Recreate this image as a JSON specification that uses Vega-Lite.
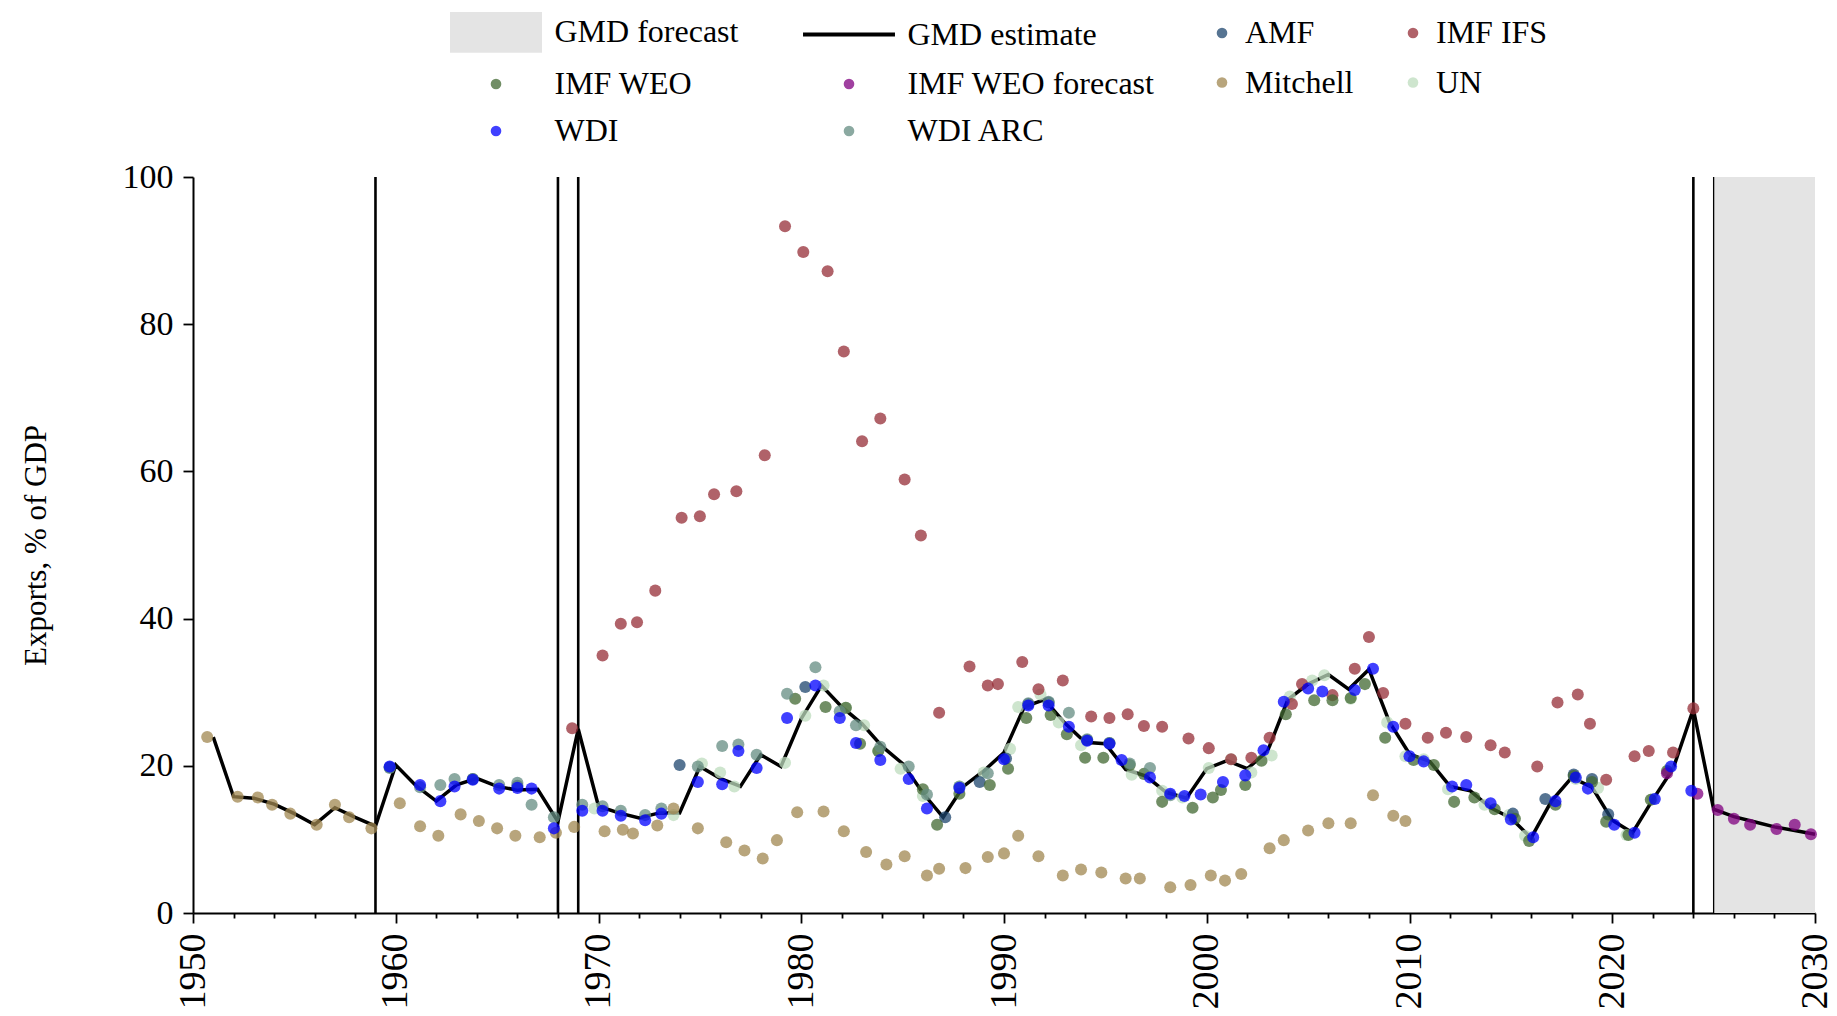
{
  "$schema": "https://vega.github.io/schema/vega-lite/v6.json",
  "width": 1622,
  "height": 736,
  "autosize": {"type": "none"},
  "padding": {"left": 193, "top": 177, "right": 22, "bottom": 103},
  "background": "white",
  "config": {
    "view": {"stroke": null},
    "font": "Liberation Serif",
    "axis": {"labelFont": "Liberation Serif", "titleFont": "Liberation Serif", "labelColor": "black", "titleColor": "black", "domainColor": "black", "tickColor": "black", "grid": false, "titleFontWeight": "normal"},
    "legend": {"labelFont": "Liberation Serif", "labelColor": "black", "labelLimit": 0, "padding": 0, "symbolStrokeWidth": 0}
  },
  "datasets": {
    "fc": [{"x": 2025, "x2": 2030}],
    "breaks": [{"x": 1959}, {"x": 1968}, {"x": 1969}, {"x": 2024}],
    "edge": [{"x": 2025}],
    "gmd": [
      {"x":1951,"v":23.9},{"x":1952,"v":15.8},{"x":1953,"v":15.6},{"x":1954,"v":14.8},{"x":1955,"v":13.5},{"x":1956,"v":12.0},{"x":1957,"v":14.3},{"x":1958,"v":13.0},{"x":1959,"v":11.8},
      {"x":1960,"v":20.1},{"x":1961,"v":17.3},{"x":1962,"v":15.2},{"x":1963,"v":17.4},{"x":1964,"v":18.3},{"x":1965,"v":17.2},{"x":1966,"v":16.7},{"x":1967,"v":16.8},{"x":1968,"v":12.4},{"x":1969,"v":25.0},
      {"x":1970,"v":14.5},{"x":1971,"v":13.6},{"x":1972,"v":12.9},{"x":1973,"v":13.6},{"x":1974,"v":13.6},{"x":1975,"v":19.9},{"x":1976,"v":18.3},{"x":1977,"v":17.2},{"x":1978,"v":21.5},{"x":1979,"v":19.9},
      {"x":1980,"v":26.4},{"x":1981,"v":30.9},{"x":1982,"v":28.0},{"x":1983,"v":25.7},{"x":1984,"v":22.6},{"x":1985,"v":20.3},{"x":1986,"v":16.3},{"x":1987,"v":13.0},{"x":1988,"v":17.2},{"x":1989,"v":19.3},
      {"x":1990,"v":21.8},{"x":1991,"v":28.0},{"x":1992,"v":29.0},{"x":1993,"v":25.8},{"x":1994,"v":23.2},{"x":1995,"v":23.0},{"x":1996,"v":19.5},{"x":1997,"v":18.6},{"x":1998,"v":16.4},{"x":1999,"v":15.6},
      {"x":2000,"v":19.6},{"x":2001,"v":20.7},{"x":2002,"v":19.6},{"x":2003,"v":22.0},{"x":2004,"v":29.0},{"x":2005,"v":31.1},{"x":2006,"v":32.4},{"x":2007,"v":30.4},{"x":2008,"v":33.1},{"x":2009,"v":26.0},
      {"x":2010,"v":21.6},{"x":2011,"v":20.6},{"x":2012,"v":17.2},{"x":2013,"v":16.6},{"x":2014,"v":14.3},{"x":2015,"v":12.9},{"x":2016,"v":10.2},{"x":2017,"v":15.2},{"x":2018,"v":18.4},{"x":2019,"v":17.1},
      {"x":2020,"v":12.6},{"x":2021,"v":10.9},{"x":2022,"v":15.4},{"x":2023,"v":19.6},{"x":2024,"v":27.7},{"x":2025,"v":14.1},{"x":2026,"v":13.1},{"x":2027,"v":12.4},{"x":2028,"v":11.7},{"x":2029,"v":11.2},{"x":2030,"v":10.7}
    ],
    "pointsB": [
      {"series":"UN","x":1969.8,"v":14.2},{"series":"UN","x":1973.7,"v":13.3},{"series":"UN","x":1975.1,"v":20.3},{"series":"UN","x":1976.0,"v":19.1},{"series":"UN","x":1976.7,"v":17.2},{"series":"UN","x":1979.2,"v":20.4},{"series":"UN","x":1980.2,"v":26.8},{"series":"UN","x":1981.1,"v":30.9},{"series":"UN","x":1982.2,"v":27.9},{"series":"UN","x":1983.1,"v":25.5},{"series":"UN","x":1983.8,"v":22.0},{"series":"UN","x":1984.9,"v":19.6},{"series":"UN","x":1986.0,"v":15.9},{"series":"UN","x":1987.8,"v":17.2},{"series":"UN","x":1989.0,"v":19.1},{"series":"UN","x":1990.3,"v":22.3},{"series":"UN","x":1990.7,"v":28.0},{"series":"UN","x":1991.8,"v":29.7},{"series":"UN","x":1992.7,"v":25.9},{"series":"UN","x":1993.8,"v":22.8},{"series":"UN","x":1996.3,"v":18.8},{"series":"UN","x":1997.8,"v":16.6},{"series":"UN","x":1998.8,"v":15.7},{"series":"UN","x":2000.1,"v":19.7},{"series":"UN","x":2001.2,"v":20.9},{"series":"UN","x":2002.2,"v":19.1},{"series":"UN","x":2003.2,"v":21.4},{"series":"UN","x":2004.1,"v":29.4},{"series":"UN","x":2005.2,"v":31.6},{"series":"UN","x":2005.8,"v":32.3},{"series":"UN","x":2007.1,"v":29.1},{"series":"UN","x":2008.9,"v":25.9},{"series":"UN","x":2009.8,"v":21.3},{"series":"UN","x":2010.7,"v":20.9},{"series":"UN","x":2011.9,"v":16.8},{"series":"UN","x":2013.7,"v":14.7},{"series":"UN","x":2014.9,"v":13.3},{"series":"UN","x":2015.7,"v":10.5},{"series":"UN","x":2018.2,"v":18.2},{"series":"UN","x":2019.3,"v":17.0},{"series":"UN","x":2020.7,"v":10.6},{"series":"UN","x":2022.0,"v":15.5},{"series":"UN","x":2022.8,"v":19.6},
      {"series":"Mitchell","x":1950.7,"v":23.9},{"series":"Mitchell","x":1952.2,"v":15.8},{"series":"Mitchell","x":1953.2,"v":15.7},{"series":"Mitchell","x":1953.9,"v":14.7},{"series":"Mitchell","x":1954.8,"v":13.5},{"series":"Mitchell","x":1956.1,"v":12.0},{"series":"Mitchell","x":1957.0,"v":14.7},{"series":"Mitchell","x":1957.7,"v":13.0},{"series":"Mitchell","x":1958.8,"v":11.5},
      {"series":"Mitchell","x":1960.2,"v":14.9},{"series":"Mitchell","x":1961.2,"v":11.8},{"series":"Mitchell","x":1962.1,"v":10.5},{"series":"Mitchell","x":1963.2,"v":13.4},{"series":"Mitchell","x":1964.1,"v":12.5},{"series":"Mitchell","x":1965.0,"v":11.5},{"series":"Mitchell","x":1965.9,"v":10.5},{"series":"Mitchell","x":1967.1,"v":10.3},{"series":"Mitchell","x":1967.9,"v":10.9},{"series":"Mitchell","x":1968.8,"v":11.7},
      {"series":"Mitchell","x":1970.3,"v":11.1},{"series":"Mitchell","x":1971.2,"v":11.3},{"series":"Mitchell","x":1971.7,"v":10.8},{"series":"Mitchell","x":1972.9,"v":11.9},{"series":"Mitchell","x":1973.7,"v":14.2},{"series":"Mitchell","x":1974.9,"v":11.5},{"series":"Mitchell","x":1976.3,"v":9.6},{"series":"Mitchell","x":1977.2,"v":8.5},{"series":"Mitchell","x":1978.1,"v":7.4},{"series":"Mitchell","x":1978.8,"v":9.9},{"series":"Mitchell","x":1979.8,"v":13.7},{"series":"Mitchell","x":1981.1,"v":13.8},{"series":"Mitchell","x":1982.1,"v":11.1},{"series":"Mitchell","x":1983.2,"v":8.3},{"series":"Mitchell","x":1984.2,"v":6.6},{"series":"Mitchell","x":1985.1,"v":7.7},{"series":"Mitchell","x":1986.2,"v":5.1},{"series":"Mitchell","x":1986.8,"v":6.0},{"series":"Mitchell","x":1988.1,"v":6.1},{"series":"Mitchell","x":1989.2,"v":7.6},{"series":"Mitchell","x":1990.0,"v":8.1},{"series":"Mitchell","x":1990.7,"v":10.5},{"series":"Mitchell","x":1991.7,"v":7.7},{"series":"Mitchell","x":1992.9,"v":5.1},{"series":"Mitchell","x":1993.8,"v":5.9},{"series":"Mitchell","x":1994.8,"v":5.5},{"series":"Mitchell","x":1996.0,"v":4.7},{"series":"Mitchell","x":1996.7,"v":4.7},{"series":"Mitchell","x":1998.2,"v":3.5},{"series":"Mitchell","x":1999.2,"v":3.8},{"series":"Mitchell","x":2000.2,"v":5.1},{"series":"Mitchell","x":2000.9,"v":4.4},{"series":"Mitchell","x":2001.7,"v":5.3},{"series":"Mitchell","x":2003.1,"v":8.8},{"series":"Mitchell","x":2003.8,"v":9.9},{"series":"Mitchell","x":2005.0,"v":11.2},{"series":"Mitchell","x":2006.0,"v":12.2},{"series":"Mitchell","x":2007.1,"v":12.2},{"series":"Mitchell","x":2008.2,"v":16.0},{"series":"Mitchell","x":2009.2,"v":13.2},{"series":"Mitchell","x":2009.8,"v":12.5},
      {"series":"IMF IFS","x":1968.7,"v":25.1},{"series":"IMF IFS","x":1970.2,"v":35.0},{"series":"IMF IFS","x":1971.1,"v":39.3},{"series":"IMF IFS","x":1971.9,"v":39.5},{"series":"IMF IFS","x":1972.8,"v":43.8},{"series":"IMF IFS","x":1974.1,"v":53.7},{"series":"IMF IFS","x":1975.0,"v":53.9},{"series":"IMF IFS","x":1975.7,"v":56.9},{"series":"IMF IFS","x":1976.8,"v":57.3},{"series":"IMF IFS","x":1978.2,"v":62.2},{"series":"IMF IFS","x":1979.2,"v":93.3},{"series":"IMF IFS","x":1980.1,"v":89.8},{"series":"IMF IFS","x":1981.3,"v":87.2},{"series":"IMF IFS","x":1982.1,"v":76.3},{"series":"IMF IFS","x":1983.0,"v":64.1},{"series":"IMF IFS","x":1983.9,"v":67.2},{"series":"IMF IFS","x":1985.1,"v":58.9},{"series":"IMF IFS","x":1985.9,"v":51.3},{"series":"IMF IFS","x":1986.8,"v":27.2},{"series":"IMF IFS","x":1988.3,"v":33.5},{"series":"IMF IFS","x":1989.2,"v":30.9},{"series":"IMF IFS","x":1989.7,"v":31.1},{"series":"IMF IFS","x":1990.9,"v":34.1},{"series":"IMF IFS","x":1991.7,"v":30.4},{"series":"IMF IFS","x":1992.9,"v":31.6},{"series":"IMF IFS","x":1994.3,"v":26.7},{"series":"IMF IFS","x":1995.2,"v":26.5},{"series":"IMF IFS","x":1996.1,"v":27.0},{"series":"IMF IFS","x":1996.9,"v":25.4},{"series":"IMF IFS","x":1997.8,"v":25.3},{"series":"IMF IFS","x":1999.1,"v":23.7},{"series":"IMF IFS","x":2000.1,"v":22.4},{"series":"IMF IFS","x":2001.2,"v":20.9},{"series":"IMF IFS","x":2002.2,"v":21.1},{"series":"IMF IFS","x":2003.1,"v":23.8},{"series":"IMF IFS","x":2004.2,"v":28.4},{"series":"IMF IFS","x":2004.7,"v":31.1},{"series":"IMF IFS","x":2006.2,"v":29.6},{"series":"IMF IFS","x":2007.3,"v":33.2},{"series":"IMF IFS","x":2008.0,"v":37.5},{"series":"IMF IFS","x":2008.7,"v":29.9},{"series":"IMF IFS","x":2009.8,"v":25.7},{"series":"IMF IFS","x":2010.9,"v":23.8},{"series":"IMF IFS","x":2011.8,"v":24.5},{"series":"IMF IFS","x":2012.8,"v":23.9},{"series":"IMF IFS","x":2014.0,"v":22.8},{"series":"IMF IFS","x":2014.7,"v":21.8},{"series":"IMF IFS","x":2016.3,"v":19.9},{"series":"IMF IFS","x":2017.3,"v":28.6},{"series":"IMF IFS","x":2018.3,"v":29.7},{"series":"IMF IFS","x":2018.9,"v":25.7},{"series":"IMF IFS","x":2019.7,"v":18.1},{"series":"IMF IFS","x":2021.1,"v":21.3},{"series":"IMF IFS","x":2021.8,"v":22.0},{"series":"IMF IFS","x":2023.0,"v":21.8},{"series":"IMF IFS","x":2024.0,"v":27.8},
      {"series":"AMF","x":1959.7,"v":19.8},{"series":"AMF","x":1963.8,"v":18.2},{"series":"AMF","x":1966.0,"v":17.3},{"series":"AMF","x":1974.0,"v":20.1},{"series":"AMF","x":1980.2,"v":30.7},{"series":"AMF","x":1987.1,"v":13.0},{"series":"AMF","x":1988.8,"v":17.8},{"series":"AMF","x":1990.1,"v":21.0},{"series":"AMF","x":1991.2,"v":28.4},{"series":"AMF","x":1992.2,"v":28.6},{"series":"AMF","x":1994.1,"v":23.5},{"series":"AMF","x":1995.2,"v":23.1},{"series":"AMF","x":2015.1,"v":13.5},{"series":"AMF","x":2016.7,"v":15.5},{"series":"AMF","x":2018.1,"v":18.8},{"series":"AMF","x":2019.0,"v":18.2},{"series":"AMF","x":2019.8,"v":13.4}
    ],
    "pointsA": [
      {"series":"IMF WEO","x":1979.7,"v":29.1},{"series":"IMF WEO","x":1981.2,"v":28.0},{"series":"IMF WEO","x":1982.2,"v":27.9},{"series":"IMF WEO","x":1982.9,"v":23.0},{"series":"IMF WEO","x":1983.8,"v":22.0},{"series":"IMF WEO","x":1986.0,"v":16.8},{"series":"IMF WEO","x":1986.7,"v":12.0},{"series":"IMF WEO","x":1987.8,"v":16.2},{"series":"IMF WEO","x":1989.3,"v":17.4},{"series":"IMF WEO","x":1990.2,"v":19.6},{"series":"IMF WEO","x":1991.1,"v":26.5},{"series":"IMF WEO","x":1992.3,"v":26.9},{"series":"IMF WEO","x":1993.1,"v":24.3},{"series":"IMF WEO","x":1994.0,"v":21.1},{"series":"IMF WEO","x":1994.9,"v":21.1},{"series":"IMF WEO","x":1996.2,"v":20.1},{"series":"IMF WEO","x":1996.9,"v":18.9},{"series":"IMF WEO","x":1997.8,"v":15.1},{"series":"IMF WEO","x":1999.3,"v":14.3},{"series":"IMF WEO","x":2000.3,"v":15.7},{"series":"IMF WEO","x":2000.7,"v":16.7},{"series":"IMF WEO","x":2001.9,"v":17.4},{"series":"IMF WEO","x":2002.7,"v":20.7},{"series":"IMF WEO","x":2003.9,"v":27.0},{"series":"IMF WEO","x":2005.3,"v":28.9},{"series":"IMF WEO","x":2006.2,"v":28.9},{"series":"IMF WEO","x":2007.1,"v":29.2},{"series":"IMF WEO","x":2007.8,"v":31.1},{"series":"IMF WEO","x":2008.8,"v":23.8},{"series":"IMF WEO","x":2010.2,"v":20.8},{"series":"IMF WEO","x":2011.2,"v":20.1},{"series":"IMF WEO","x":2012.2,"v":15.1},{"series":"IMF WEO","x":2013.2,"v":15.7},{"series":"IMF WEO","x":2014.2,"v":14.1},{"series":"IMF WEO","x":2015.2,"v":12.8},{"series":"IMF WEO","x":2015.9,"v":9.8},{"series":"IMF WEO","x":2017.2,"v":14.7},{"series":"IMF WEO","x":2018.1,"v":18.6},{"series":"IMF WEO","x":2019.0,"v":17.8},{"series":"IMF WEO","x":2019.7,"v":12.4},{"series":"IMF WEO","x":2020.8,"v":10.6},{"series":"IMF WEO","x":2021.9,"v":15.4},{"series":"IMF WEO","x":2022.7,"v":19.3},
      {"series":"IMF WEO forecast","x":2022.7,"v":19.0},{"series":"IMF WEO forecast","x":2024.2,"v":16.2},{"series":"IMF WEO forecast","x":2025.2,"v":14.0},{"series":"IMF WEO forecast","x":2026.0,"v":12.8},{"series":"IMF WEO forecast","x":2026.8,"v":12.0},{"series":"IMF WEO forecast","x":2028.1,"v":11.4},{"series":"IMF WEO forecast","x":2029.0,"v":12.0},{"series":"IMF WEO forecast","x":2029.8,"v":10.7},
      {"series":"WDI ARC","x":1959.7,"v":19.7},{"series":"WDI ARC","x":1961.2,"v":17.1},{"series":"WDI ARC","x":1962.2,"v":17.4},{"series":"WDI ARC","x":1962.9,"v":18.2},{"series":"WDI ARC","x":1963.8,"v":18.2},{"series":"WDI ARC","x":1965.1,"v":17.4},{"series":"WDI ARC","x":1966.0,"v":17.7},{"series":"WDI ARC","x":1966.7,"v":14.7},{"series":"WDI ARC","x":1967.8,"v":13.0},{"series":"WDI ARC","x":1969.2,"v":14.7},{"series":"WDI ARC","x":1970.2,"v":14.5},{"series":"WDI ARC","x":1971.1,"v":13.9},{"series":"WDI ARC","x":1972.3,"v":13.3},{"series":"WDI ARC","x":1973.1,"v":14.2},{"series":"WDI ARC","x":1974.9,"v":19.9},{"series":"WDI ARC","x":1976.1,"v":22.7},{"series":"WDI ARC","x":1976.9,"v":22.9},{"series":"WDI ARC","x":1977.8,"v":21.5},{"series":"WDI ARC","x":1979.3,"v":29.8},{"series":"WDI ARC","x":1980.7,"v":33.4},{"series":"WDI ARC","x":1981.9,"v":27.4},{"series":"WDI ARC","x":1982.7,"v":25.5},{"series":"WDI ARC","x":1983.9,"v":22.6},{"series":"WDI ARC","x":1985.3,"v":19.9},{"series":"WDI ARC","x":1986.2,"v":16.1},{"series":"WDI ARC","x":1987.8,"v":17.2},{"series":"WDI ARC","x":1989.2,"v":19.0},{"series":"WDI ARC","x":1991.2,"v":28.5},{"series":"WDI ARC","x":1992.2,"v":28.7},{"series":"WDI ARC","x":1993.2,"v":27.2},{"series":"WDI ARC","x":1994.1,"v":23.6},{"series":"WDI ARC","x":1995.2,"v":23.1},{"series":"WDI ARC","x":1996.2,"v":20.3},{"series":"WDI ARC","x":1997.2,"v":19.7},{"series":"WDI ARC","x":1998.2,"v":16.0},
      {"series":"WDI","x":1959.7,"v":19.9},{"series":"WDI","x":1961.2,"v":17.4},{"series":"WDI","x":1962.2,"v":15.2},{"series":"WDI","x":1962.9,"v":17.2},{"series":"WDI","x":1963.8,"v":18.1},{"series":"WDI","x":1965.1,"v":16.9},{"series":"WDI","x":1966.0,"v":17.0},{"series":"WDI","x":1966.7,"v":16.9},{"series":"WDI","x":1967.8,"v":11.5},{"series":"WDI","x":1969.2,"v":13.9},{"series":"WDI","x":1970.2,"v":13.9},{"series":"WDI","x":1971.1,"v":13.2},{"series":"WDI","x":1972.3,"v":12.6},{"series":"WDI","x":1973.1,"v":13.5},{"series":"WDI","x":1974.9,"v":17.8},{"series":"WDI","x":1976.1,"v":17.5},{"series":"WDI","x":1976.9,"v":22.0},{"series":"WDI","x":1977.8,"v":19.7},{"series":"WDI","x":1979.3,"v":26.5},{"series":"WDI","x":1980.7,"v":30.9},{"series":"WDI","x":1981.9,"v":26.5},{"series":"WDI","x":1982.7,"v":23.1},{"series":"WDI","x":1983.9,"v":20.8},{"series":"WDI","x":1985.3,"v":18.2},{"series":"WDI","x":1986.2,"v":14.2},{"series":"WDI","x":1987.8,"v":17.0},{"series":"WDI","x":1990.0,"v":20.9},{"series":"WDI","x":1991.2,"v":28.2},{"series":"WDI","x":1992.2,"v":28.2},{"series":"WDI","x":1993.2,"v":25.3},{"series":"WDI","x":1994.1,"v":23.4},{"series":"WDI","x":1995.2,"v":23.0},{"series":"WDI","x":1995.8,"v":20.8},{"series":"WDI","x":1997.2,"v":18.4},{"series":"WDI","x":1998.2,"v":16.2},{"series":"WDI","x":1998.9,"v":15.9},{"series":"WDI","x":1999.7,"v":16.1},{"series":"WDI","x":2000.8,"v":17.8},{"series":"WDI","x":2001.9,"v":18.7},{"series":"WDI","x":2002.8,"v":22.1},{"series":"WDI","x":2003.8,"v":28.7},{"series":"WDI","x":2005.0,"v":30.5},{"series":"WDI","x":2005.7,"v":30.1},{"series":"WDI","x":2007.3,"v":30.3},{"series":"WDI","x":2008.2,"v":33.2},{"series":"WDI","x":2009.2,"v":25.3},{"series":"WDI","x":2010.0,"v":21.3},{"series":"WDI","x":2010.7,"v":20.6},{"series":"WDI","x":2012.1,"v":17.2},{"series":"WDI","x":2012.8,"v":17.4},{"series":"WDI","x":2014.0,"v":14.9},{"series":"WDI","x":2015.0,"v":12.7},{"series":"WDI","x":2016.1,"v":10.3},{"series":"WDI","x":2017.2,"v":15.2},{"series":"WDI","x":2018.2,"v":18.4},{"series":"WDI","x":2018.8,"v":16.9},{"series":"WDI","x":2020.1,"v":12.0},{"series":"WDI","x":2021.1,"v":10.9},{"series":"WDI","x":2022.1,"v":15.5},{"series":"WDI","x":2022.9,"v":19.9},{"series":"WDI","x":2023.9,"v":16.6}
    ]
  },
  "resolve": {"scale": {"color": "independent", "shape": "independent"}},
  "layer": [
    {
      "data": {"name": "fc"},
      "mark": {"type": "rect", "color": "#e4e4e4"},
      "encoding": {
        "x": {"field": "x", "type": "quantitative",
          "scale": {"domain": [1950, 2030], "nice": false, "zero": false},
          "axis": {
            "title": null,
            "values": [1950,1951,1952,1953,1954,1955,1956,1957,1958,1959,1960,1961,1962,1963,1964,1965,1966,1967,1968,1969,1970,1971,1972,1973,1974,1975,1976,1977,1978,1979,1980,1981,1982,1983,1984,1985,1986,1987,1988,1989,1990,1991,1992,1993,1994,1995,1996,1997,1998,1999,2000,2001,2002,2003,2004,2005,2006,2007,2008,2009,2010,2011,2012,2013,2014,2015,2016,2017,2018,2019,2020,2021,2022,2023,2024,2025,2026,2027,2028,2029,2030],
            "format": "d",
            "labelExpr": "datum.value % 10 === 0 ? datum.label : ''",
            "labelOverlap": false,
            "labelFlush": false,
            "labelAngle": 270,
            "labelFontSize": 38,
            "labelPadding": 10,
            "tickSize": {"condition": {"test": "datum.value % 10 === 0", "value": 10}, "value": 5},
            "tickWidth": 1.8,
            "domainWidth": 2
          }
        },
        "x2": {"field": "x2"}
      }
    },
    {
      "data": {"name": "breaks"},
      "mark": {"type": "rule", "color": "black", "strokeWidth": 2.6},
      "encoding": {"x": {"field": "x", "type": "quantitative", "title": null}}
    },
    {
      "data": {"name": "edge"},
      "mark": {"type": "rule", "color": "black", "strokeWidth": 1.3},
      "encoding": {"x": {"field": "x", "type": "quantitative", "title": null}}
    },
    {
      "data": {"name": "gmd"},
      "mark": {"type": "line", "color": "black", "strokeWidth": 3.5},
      "encoding": {
        "x": {"field": "x", "type": "quantitative", "title": null},
        "y": {"field": "v", "type": "quantitative",
          "scale": {"domain": [0, 100], "nice": false},
          "axis": {
            "title": "Exports, % of GDP",
            "titleFontSize": 31,
            "titlePadding": 70,
            "values": [0, 20, 40, 60, 80, 100],
            "labelFontSize": 34,
            "labelPadding": 10,
            "tickSize": 10,
            "tickWidth": 1.8,
            "domainWidth": 2
          }
        }
      }
    },
    {
      "data": {"name": "pointsB"},
      "mark": {"type": "point", "filled": true, "opacity": 1, "size": 145, "strokeWidth": 0},
      "encoding": {
        "x": {"field": "x", "type": "quantitative", "title": null},
        "y": {"field": "v", "type": "quantitative", "title": "Exports, % of GDP"},
        "color": {"field": "series", "type": "nominal",
          "scale": {"domain": ["AMF", "IMF IFS", "Mitchell", "UN"],
                    "range": ["rgba(30,70,110,0.75)", "rgba(150,45,55,0.75)", "rgba(160,135,80,0.75)", "rgba(190,220,190,0.75)"]},
          "legend": {"title": null, "orient": "none", "direction": "horizontal", "legendX": 1013, "legendY": -160, "columns": 2, "columnPadding": 43, "rowPadding": 17.5, "labelFontSize": 32, "labelOffset": 7, "symbolSize": 113, "symbolType": "circle", "symbolOpacity": 1}
        }
      }
    },
    {
      "data": {"name": "pointsA"},
      "mark": {"type": "point", "filled": true, "opacity": 1, "size": 145, "strokeWidth": 0},
      "encoding": {
        "x": {"field": "x", "type": "quantitative", "title": null},
        "y": {"field": "v", "type": "quantitative", "title": "Exports, % of GDP"},
        "color": {"field": "series", "type": "nominal",
          "scale": {"domain": ["GMD forecast", "GMD estimate", "IMF WEO", "IMF WEO forecast", "WDI", "WDI ARC"],
                    "range": ["#e4e4e4", "#000000", "rgba(66,104,49,0.75)", "rgba(128,0,128,0.75)", "rgba(0,0,255,0.75)", "rgba(100,140,130,0.75)"]},
          "legend": {"title": null, "orient": "none", "direction": "horizontal", "legendX": 287, "legendY": -161, "columns": 2, "columnPadding": 64, "rowPadding": 15, "labelFontSize": 32, "labelOffset": 42.5, "symbolSize": 113, "symbolOpacity": 1}
        },
        "shape": {"field": "series", "type": "nominal",
          "scale": {"domain": ["GMD forecast", "GMD estimate", "IMF WEO", "IMF WEO forecast", "WDI", "WDI ARC"],
                    "range": ["M-8.65,-3.83H8.65V3.83H-8.65Z", "M-8.65,-0.37H8.65V0.37H-8.65Z", "circle", "circle", "circle", "circle"]},
          "legend": {"title": null, "orient": "none", "direction": "horizontal", "legendX": 287, "legendY": -161, "columns": 2, "columnPadding": 64, "rowPadding": 15, "labelFontSize": 32, "labelOffset": 42.5, "symbolSize": 113, "symbolOpacity": 1}
        }
      }
    }
  ]
}
